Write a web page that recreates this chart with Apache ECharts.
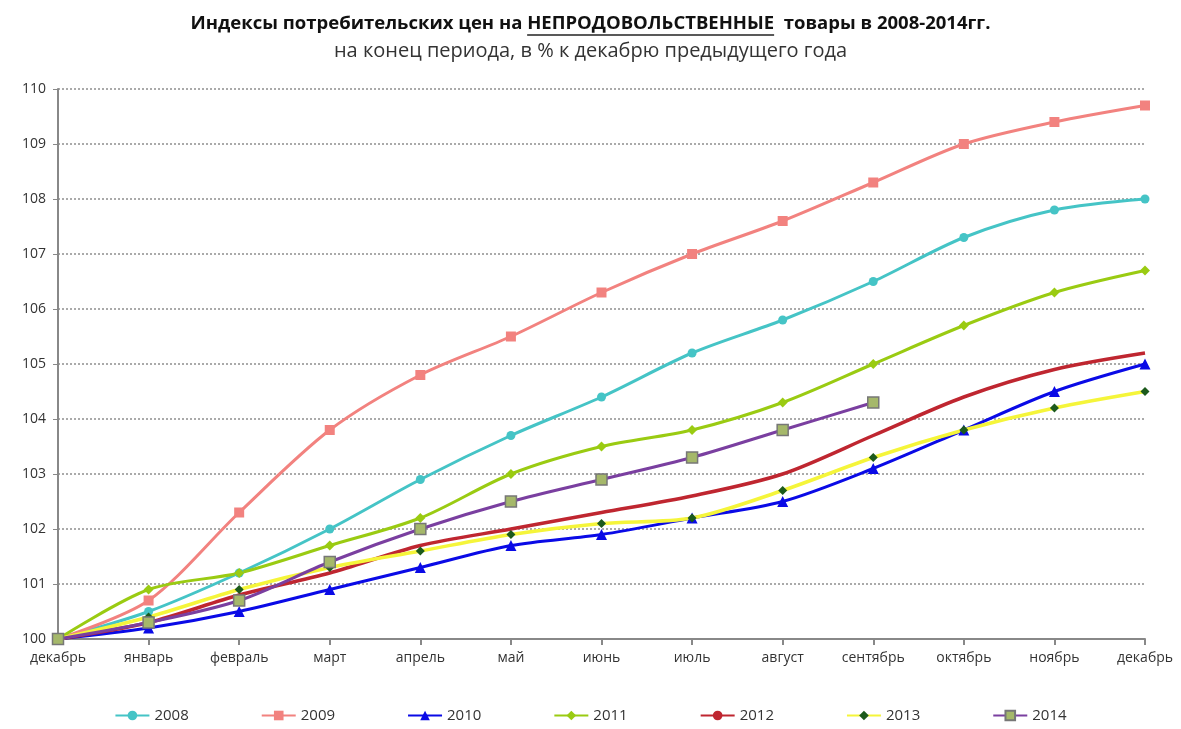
<!DOCTYPE html>
<html><head><meta charset="utf-8">
<script src="https://cdn.jsdelivr.net/npm/echarts@6/dist/echarts.min.js"></script>
<style>html,body{margin:0;padding:0;background:#fff}#c{width:1181px;height:729px}</style>
</head><body><div id="c"></div>
<script>
const months = ['декабрь','январь','февраль','март','апрель','май','июнь','июль','август','сентябрь','октябрь','ноябрь','декабрь'];
const yTicks = [100,101,102,103,104,105,106,107,108,109,110];
const s2008 = [100,100.5,101.2,102.0,102.9,103.7,104.4,105.2,105.8,106.5,107.3,107.8,108.0];
const s2009 = [100,100.7,102.3,103.8,104.8,105.5,106.3,107.0,107.6,108.3,109.0,109.4,109.7];
const s2010 = [100,100.2,100.5,100.9,101.3,101.7,101.9,102.2,102.5,103.1,103.8,104.5,105.0];
const s2011 = [100,100.9,101.2,101.7,102.2,103.0,103.5,103.8,104.3,105.0,105.7,106.3,106.7];
const s2012 = [100,100.3,100.8,101.2,101.7,102.0,102.3,102.6,103.0,103.7,104.4,104.9,105.2];
const s2013 = [100,100.4,100.9,101.3,101.6,101.9,102.1,102.2,102.7,103.3,103.8,104.2,104.5];
const s2014 = [100,100.3,100.7,101.4,102.0,102.5,102.9,103.3,103.8,104.3];
const names = ['2008','2009','2010','2011','2012','2013','2014'];
const titlePre = 'Индексы потребительских цен на ';
const titleWord = 'НЕПРОДОВОЛЬСТВЕННЫЕ';
const titlePost = '  товары в 2008-2014гг.';

const W = 1181;
const titleFont = 'bold 18.5px "Open Sans"';
const cv = document.createElement('canvas').getContext('2d');
cv.font = titleFont;
const fullW = cv.measureText(titlePre + titleWord + titlePost).width;
const preW = cv.measureText(titlePre).width;
const wordW = cv.measureText(titleWord).width;
const ux1 = W/2 - fullW/2 + preW;

const chart = echarts.init(document.getElementById('c'));
function mk(name, data, color, symbol, size, mcolor, extra){
  return Object.assign({
    name, type:'line', data, smooth:0.3,
    lineStyle:{color, width:3},
    itemStyle:{color: mcolor||color},
    symbol, symbolSize:size, showSymbol: symbol!=='none',
    z: 2
  }, extra||{});
}
chart.setOption({
  animation:false,
  textStyle:{fontFamily:'"Open Sans", "DejaVu Sans", sans-serif'},
  title:{
    text: titlePre + titleWord + titlePost,
    subtext:'на конец периода, в % к декабрю предыдущего года',
    left:'center', top:9, itemGap:8,
    textStyle:{fontSize:18.5, fontWeight:'bold', color:'#111', fontFamily:'"Open Sans"'},
    subtextStyle:{fontSize:20, color:'#333', fontFamily:'"Open Sans"'}
  },
  graphic:[{type:'line', shape:{x1:ux1,y1:35,x2:ux1+wordW,y2:35}, style:{stroke:'#222', lineWidth:1.5}}],
  legend:{
    data:names, bottom:1, left:'center', itemGap:72, itemWidth:34, itemHeight:12,
    textStyle:{fontSize:15, color:'#333'}
  },
  grid:{left:58, right:36, top:89, bottom:90},
  xAxis:{
    type:'category', data:months, boundaryGap:false,
    axisLine:{lineStyle:{color:'#888', width:2}},
    axisTick:{show:true, length:6, lineStyle:{color:'#888', width:2}},
    axisLabel:{fontSize:14, color:'#333', margin:12}
  },
  yAxis:{
    type:'value', min:100, max:110, interval:1,
    axisLine:{show:true, lineStyle:{color:'#888', width:2}},
    axisTick:{show:true, length:5, lineStyle:{color:'#888'}},
    axisLabel:{fontSize:14, color:'#333', margin:12},
    splitLine:{lineStyle:{color:'#aaa', type:[2,2], width:2}}
  },
  series:[
    mk('2008', s2008, '#45c4c6', 'circle', 9),
    mk('2009', s2009, '#f2827f', 'rect', 10),
    mk('2010', s2010, '#0a0ae6', 'triangle', 11),
    mk('2011', s2011, '#9acb12', 'diamond', 10),
    mk('2012', s2012, '#bf2630', 'none', 0, null, {lineStyle:{color:'#bf2630', width:3.5}}),
    mk('2013', s2013, '#f5f53a', 'diamond', 9, '#1c5a1c', {lineStyle:{color:'#f5f53a', width:3.5}}),
    mk('2014', s2014, '#7a3fa0', 'rect', 11, '#a5b86a', {itemStyle:{color:'#a5b86a', borderColor:'#777', borderWidth:1.5}})
  ]
});
</script></body></html>
